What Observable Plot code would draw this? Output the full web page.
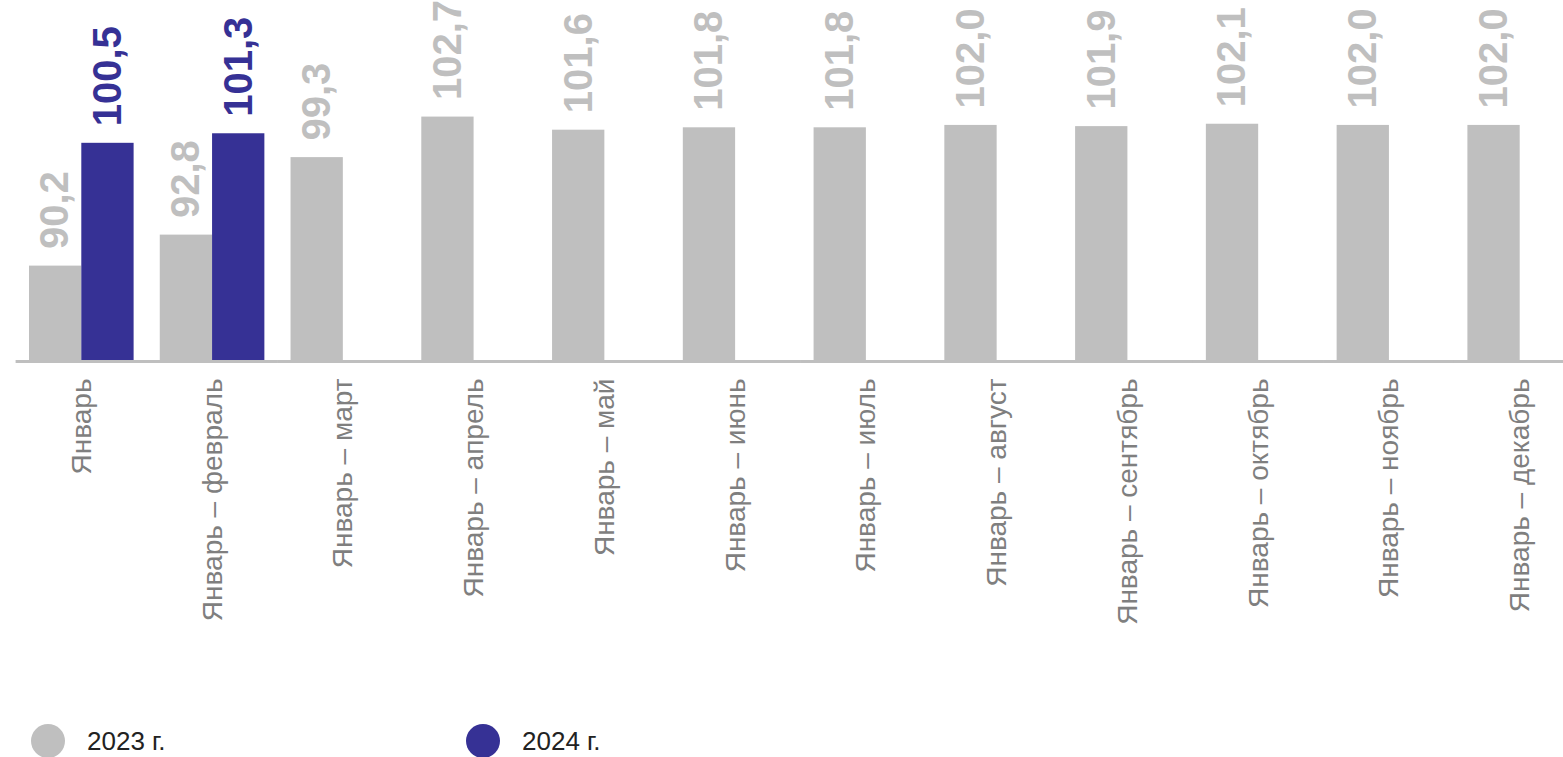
<!DOCTYPE html>
<html>
<head>
<meta charset="utf-8">
<script src="https://cdn.jsdelivr.net/npm/d3@7"></script>
<script src="https://cdn.jsdelivr.net/npm/@observablehq/plot@0.6"></script>
<style>
html, body { margin: 0; padding: 0; overflow: hidden; background: #fff; }
#chart svg { max-width: none !important; display: block; }
#legend { position: relative; height: 37px; font-family: "Liberation Sans", Arial, sans-serif; }
.item { position: absolute; top: 0px; display: flex; align-items: center; }
.dot { width: 34px; height: 34px; border-radius: 50%; }
.lab { margin-left: 22px; font-size: 26px; color: #222; }
</style>
</head>
<body>
<div id="chart"></div>
<div id="legend"></div>
<script>
const categories = ["Январь", "Январь – февраль", "Январь – март", "Январь – апрель", "Январь – май", "Январь – июнь", "Январь – июль", "Январь – август", "Январь – сентябрь", "Январь – октябрь", "Январь – ноябрь", "Январь – декабрь"];
const values2023 = [90.2, 92.8, 99.3, 102.7, 101.6, 101.8, 101.8, 102.0, 101.9, 102.1, 102.0, 102.0];
const values2024 = [100.5, 101.3];
const years = ["2023 г.", "2024 г."];
const colors = ["#bfbfbf", "#363195"];

const data = [];
values2023.forEach((v, i) => data.push({cat: categories[i], year: years[0], value: v}));
values2024.forEach((v, i) => data.push({cat: categories[i], year: years[1], value: v}));

const fmt = v => d3.format(".1f")(v).replace(".", ",");

const chart = Plot.plot({
  width: 1572,
  height: 724,
  marginLeft: 29,
  marginRight: 0,
  marginTop: 20,
  marginBottom: 363,
  style: {fontFamily: "'Liberation Sans', Arial, sans-serif", background: "#fff", maxWidth: "none"},
  fx: {domain: categories, paddingInner: 0.2, paddingOuter: 0, round: false, label: null},
  x: {domain: years, padding: 0, round: false, axis: null},
  y: {domain: [82.2, 110.8], axis: null},
  color: {domain: years, range: colors},
  marks: [
    Plot.barY(data, {fx: "cat", x: "year", y1: 82.2, y2: "value", fill: "year"}),
    Plot.ruleY([82.2], {stroke: "#bfbfbf", strokeWidth: 3, insetLeft: -13.4, insetRight: -13.4}),
    Plot.text(data, {
      fx: "cat", x: "year", y: "value", text: d => fmt(d.value),
      rotate: -90, textAnchor: "start", dy: -17,
      fill: "year", fontWeight: "bold", fontSize: 40
    }),
    Plot.axisFx({anchor: "bottom", tickRotate: -90, tickSize: 0, tickPadding: 17, fontSize: 28, fill: "#7f7f7f", label: null})
  ]
});
document.getElementById("chart").appendChild(chart);

const legend = document.getElementById("legend");
const lefts = [31, 466];
years.forEach((y, i) => {
  const it = document.createElement("div");
  it.className = "item";
  it.style.left = lefts[i] + "px";
  it.innerHTML = `<div class="dot" style="background:${colors[i]}"></div><span class="lab">${y}</span>`;
  legend.appendChild(it);
});
</script>
</body>
</html>
